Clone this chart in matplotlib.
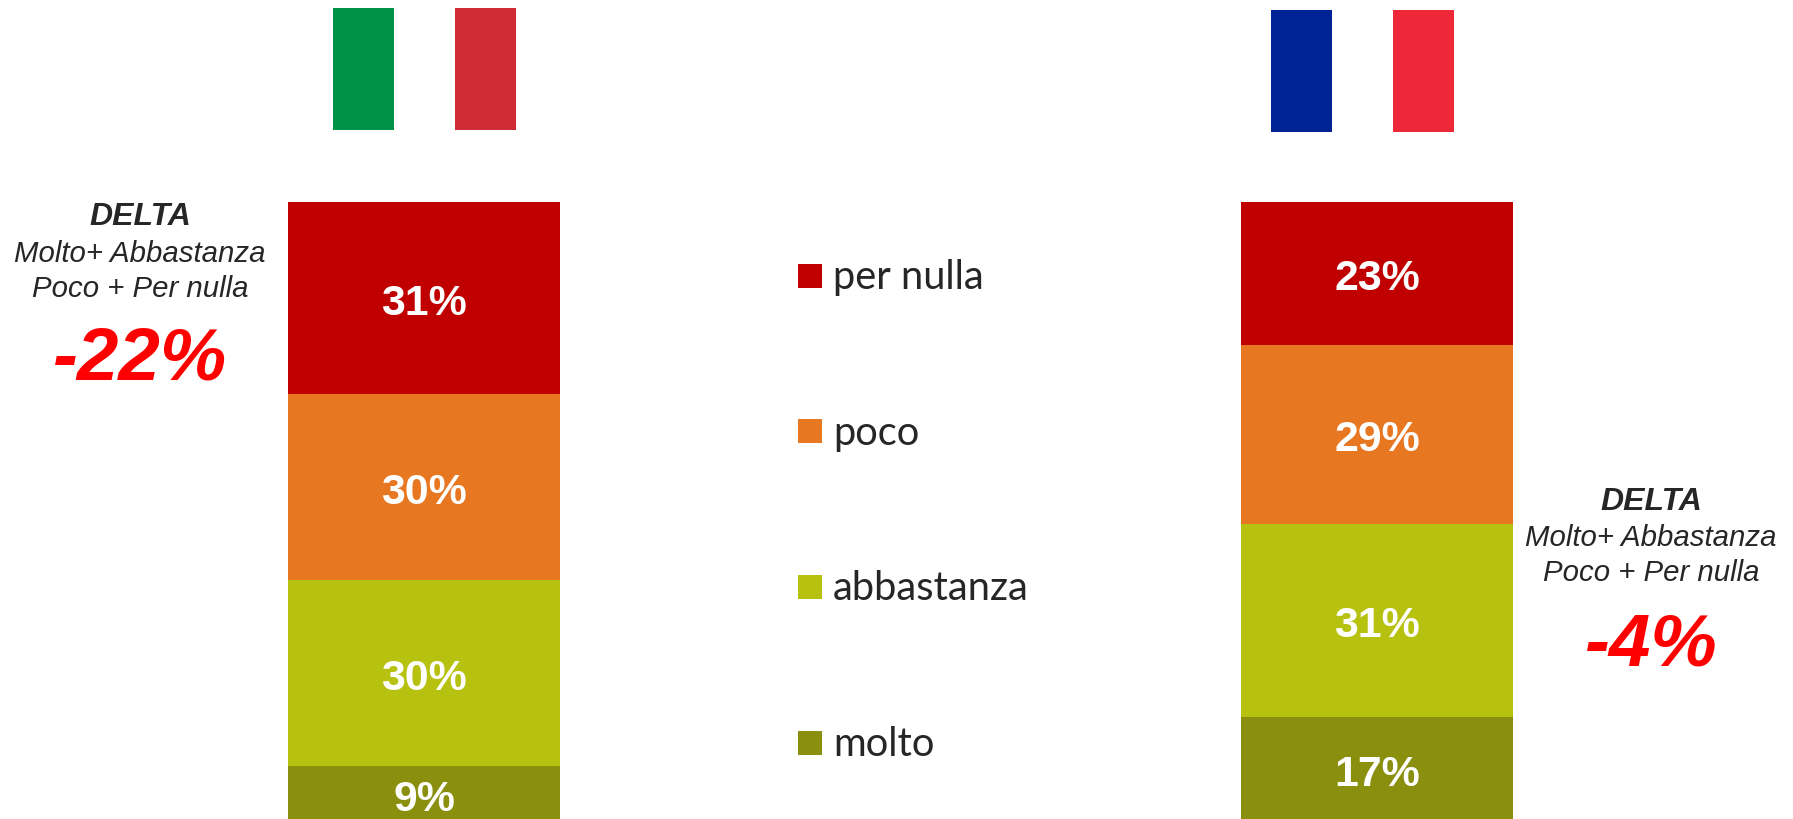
import matplotlib
matplotlib.use('Agg')
import matplotlib.pyplot as plt
from matplotlib.patches import Rectangle

W, H = 1793, 819

## Data
categories = ['molto', 'abbastanza', 'poco', 'per nulla']
italy = [9, 30, 30, 31]
france = [17, 31, 29, 23]
colors = ['#8A8F0E', '#B7C110', '#E87722', '#C00000']
delta_title = 'DELTA'
delta_lines = ['Molto+ Abbastanza', 'Poco + Per nulla']
delta_italy = '-22%'
delta_france = '-4%'

TEXT = '#262626'
SANS = 'Liberation Sans'

PX_PER_PCT = 6.2
BAR_TOP = 202


def bar_axes(fig, left, right, values):
    ax = fig.add_axes([left / W, 0, (right - left) / W, (H - BAR_TOP) / H])
    bottom = 0
    for val, col in zip(values, colors):
        ax.bar(0, val, bottom=bottom, width=1, color=col, linewidth=0)
        # labels sit a little under the middle of each segment
        ax.annotate(f'{val}%', (0, bottom + val / 2), xytext=(0, -4), textcoords='offset points',
                    ha='center', va='center', color='white', fontsize=30.8, fontweight='bold',
                    family=SANS)
        bottom += val
    ax.set_xlim(-0.5, 0.5)
    ax.set_ylim(100 - (H - BAR_TOP) / PX_PER_PCT, 100)
    ax.axis('off')
    return ax


def flag(ov, x0, x1, x2, x3, y0, y1, c_left, c_right):
    ov.add_patch(Rectangle((x0, y0), x1 - x0, y1 - y0, color=c_left, lw=0))
    ov.add_patch(Rectangle((x2, y0), x3 - x2, y1 - y0, color=c_right, lw=0))


def delta_block(ov, cx, ys, value):
    ov.text(cx, ys[0], delta_title, ha='center', va='center', fontsize=23, color=TEXT,
            fontweight='bold', fontstyle='italic', family=SANS)
    for line, y in zip(delta_lines, ys[1:3]):
        ov.text(cx, y, line, ha='center', va='center', fontsize=21.2, color=TEXT,
                fontstyle='italic', family=SANS)
    ov.text(cx, ys[3], value, ha='center', va='center', fontsize=53.7, color='#FF0000',
            fontweight='bold', fontstyle='italic', family=SANS)


fig = plt.figure(figsize=(W / 100, H / 100), dpi=100, facecolor='white')

bar_axes(fig, 288, 560, italy)
bar_axes(fig, 1241, 1513, france)

# overlay in pixel coordinates for flags, legend and the delta notes
ov = fig.add_axes([0, 0, 1, 1])
ov.set_xlim(0, W)
ov.set_ylim(H, 0)
ov.axis('off')
ov.patch.set_alpha(0)

flag(ov, 333, 394, 455, 516, 8, 130, '#009246', '#CE2B37')
flag(ov, 1271, 1332, 1393, 1454, 10, 132, '#002395', '#ED2939')

delta_block(ov, 140, [217, 254, 289, 360], delta_italy)
delta_block(ov, 1651, [502, 538, 573, 646], delta_france)

# legend, top to bottom
legend_y = [745, 589, 433, 278]
for name, col, y in zip(categories, colors, legend_y):
    ov.add_patch(Rectangle((798, y - 14), 24, 24, color=col, lw=0))
    ov.text(833, y, name, ha='left', va='center', fontsize=28.7, color=TEXT, family='Lato')

fig.savefig('out.png', dpi=100)
